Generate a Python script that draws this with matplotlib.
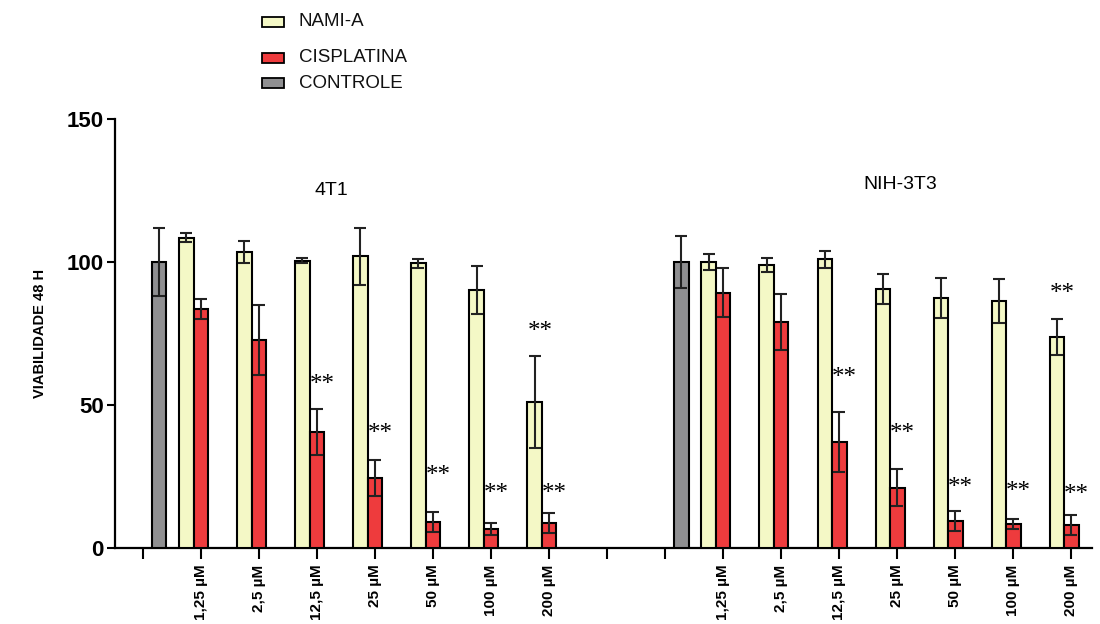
import numpy as np
import matplotlib
matplotlib.use('Agg')
import matplotlib.pyplot as plt
from matplotlib.patches import Rectangle

plt.rcParams['font.family'] = ['Liberation Sans', 'DejaVu Sans']

# dados
concentracoes = ['1,25', '2,5', '12,5', '25', '50', '100', '200']
linhagens = ['4T1', 'NIH-3T3']

controle = [100, 100]
controle_err = [12, 9]

nami_4t1 = [108.5, 103.5, 100.5, 102, 99.5, 90.3, 51]
nami_4t1_err = [1.5, 4, 1, 10, 1.5, 8.4, 16]
cis_4t1 = [83.5, 72.7, 40.6, 24.5, 9.2, 6.6, 8.7]
cis_4t1_err = [3.5, 12.3, 8, 6.3, 3.5, 2, 3.5]

nami_nih = [99.9, 99, 100.9, 90.6, 87.3, 86.4, 73.7]
nami_nih_err = [2.8, 2.5, 3, 5.2, 7, 7.6, 6.3]
cis_nih = [89.3, 79.1, 37.2, 21.1, 9.6, 8.4, 8.0]
cis_nih_err = [8.5, 9.7, 10.5, 6.5, 3.5, 1.7, 3.5]

# significância (**): índice da concentração, altura
sig_cis_4t1 = [(2, 57), (3, 40), (4, 25), (5, 19), (6, 19)]
sig_nami_4t1 = [(6, 75.5)]
sig_cis_nih = [(2, 59.4), (3, 40), (4, 21), (5, 19.7), (6, 18.5)]
sig_nami_nih = [(6, 88.8)]

cor_nami = '#F4F8C6'
cor_cis = '#EE3B3D'
cor_ctrl = '#8F8F91'

fig = plt.figure(figsize=(11, 6.24), dpi=100)
ax = fig.add_axes([0.1045, 0.1218, 0.888, 0.6875])

w = 0.25
n = len(concentracoes)
bar_kw = dict(width=w, edgecolor='black', linewidth=1.5, zorder=3)
err_kw = dict(fmt='none', ecolor='#222222', elinewidth=1.5, capsize=4, capthick=1.5, zorder=4)

grupos = [
    (nami_4t1, nami_4t1_err, cis_4t1, cis_4t1_err, sig_cis_4t1, sig_nami_4t1),
    (nami_nih, nami_nih_err, cis_nih, cis_nih_err, sig_cis_nih, sig_nami_nih),
]

tick_pos = []
tick_lab = []
for g, (nami, nami_err, cis, cis_err, sig_c, sig_n) in enumerate(grupos):
    base = g * (n + 2)
    # controle
    xc = base + 0.28
    ax.bar(xc, controle[g], color=cor_ctrl, **bar_kw)
    ax.errorbar(xc, controle[g], yerr=controle_err[g], **err_kw)
    x = base + 1 + np.arange(n)
    ax.bar(x - w, nami, color=cor_nami, **bar_kw)
    ax.errorbar(x - w, nami, yerr=nami_err, **err_kw)
    ax.bar(x, cis, color=cor_cis, **bar_kw)
    ax.errorbar(x, cis, yerr=cis_err, **err_kw)
    for i, y in sig_c:
        ax.text(x[i] + 0.09, y, '**', family=['Liberation Serif'], fontsize=18,
                ha='center', va='center')
    for i, y in sig_n:
        ax.text(x[i] - w + 0.1, y, '**', family=['Liberation Serif'], fontsize=18,
                ha='center', va='center')
    tick_pos += [base] + list(x)
    tick_lab += [''] + [f'{c} µM' for c in concentracoes]
    if g == 0:
        tick_pos.append(base + n + 1)
        tick_lab.append('')

ax.text(3.25, 125, linhagens[0], fontsize=14, ha='center', va='center')
ax.text(13.05, 127, linhagens[1], fontsize=14, ha='center', va='center')

ax.set_xlim(-0.48, 16.35)
ax.set_ylim(0, 150)
ax.set_yticks([0, 50, 100, 150])
ax.set_yticklabels(['0', '50', '100', '150'], fontsize=16, fontweight='bold')
ax.set_xticks(tick_pos)
ax.set_xticklabels(tick_lab, rotation=90, fontsize=11, fontweight='bold')
ax.tick_params(axis='y', length=6, width=1.5, pad=2)
ax.tick_params(axis='x', length=8, width=1.5, pad=4)
for s in ['top', 'right']:
    ax.spines[s].set_visible(False)
for s in ['left', 'bottom']:
    ax.spines[s].set_linewidth(1.6)
ax.set_ylabel('VIABILIDADE 48 H', fontsize=10.5, fontweight='bold', labelpad=14)

# legenda manual
leg = [('NAMI-A', cor_nami, 22), ('CISPLATINA', cor_cis, 58), ('CONTROLE', cor_ctrl, 83)]
for nome, cor, ypx in leg:
    yf = 1 - ypx / 624
    fig.patches.append(Rectangle((262 / 1100, yf - 5 / 624), 22 / 1100, 10 / 624,
                                 transform=fig.transFigure, facecolor=cor,
                                 edgecolor='black', linewidth=1.3))
    fig.text(299 / 1100, yf, nome, fontsize=13.5, va='center', ha='left', color='#111111')

plt.savefig('out.png', dpi=100)
